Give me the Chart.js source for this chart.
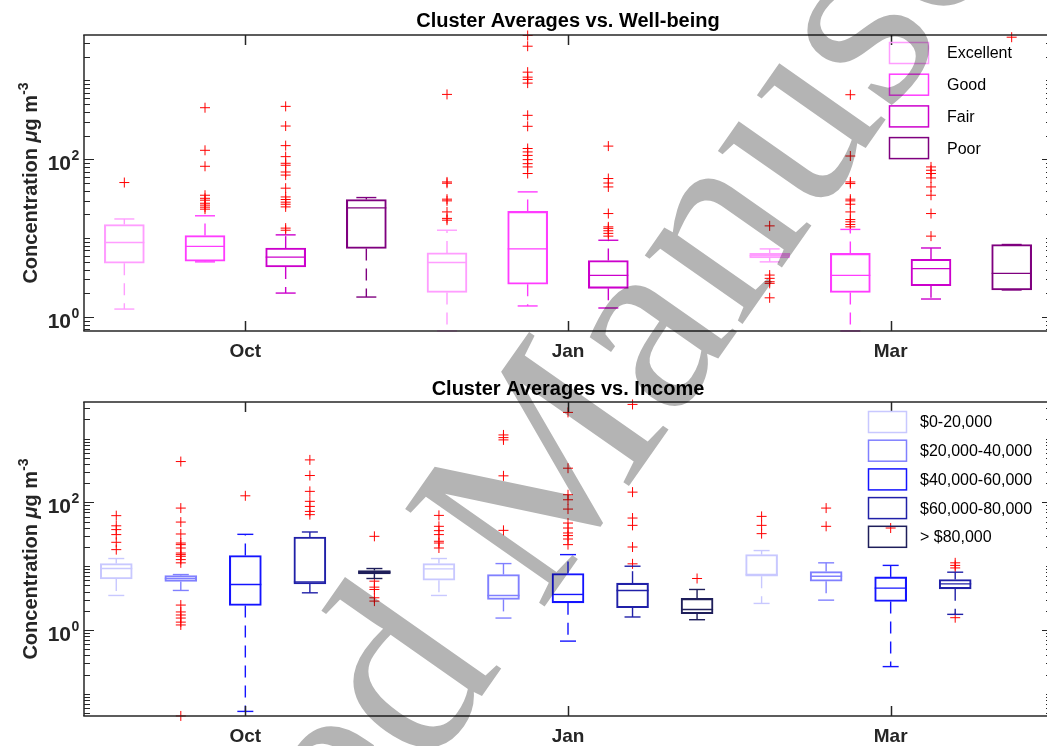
<!DOCTYPE html>
<html>
<head>
<meta charset="utf-8">
<title>Cluster Averages</title>
<script src="https://cdn.jsdelivr.net/npm/chart.js@4.4.1/dist/chart.umd.min.js"></script>
<style>
  html, body { margin: 0; padding: 0; background: #fff; }
  #wrap { position: relative; width: 1047px; height: 746px; overflow: hidden; background: #fff; }
  #wrap canvas { position: absolute; left: 0; }
  #topChart { top: 0; }
  #bottomChart { top: 370px; }
  #mark { top: 0; mix-blend-mode: multiply; pointer-events: none; }
</style>
</head>
<body>
<div id="wrap">
  <canvas id="topChart" width="1053" height="370"></canvas>
  <canvas id="bottomChart" width="1053" height="376"></canvas>
  <canvas id="mark" width="1047" height="746"></canvas>
</div>
<script>
const FONT = '"Liberation Sans", Arial, Helvetica, sans-serif';
const AXIS_COLOR = '#262626';

const seasons = ['Oct', 'Jan', 'Mar'];

// ---- top panel: well-being ----
const wellbeingNames = ['Excellent', 'Good', 'Fair', 'Poor'];
// one entry per season (Oct, Jan, Mar): [lower whisker, q1, median, q3, upper whisker]
const excellentBox = [[1.26, 4.8, 8.8, 14.9, 17.5], [0.665, 2.05, 4.9, 6.5, 12.6], [5.0, 5.6, 6.0, 6.4, 7.3]];
const goodBox = [[5.0, 5.1, 7.85, 10.8, 19.2], [1.38, 2.6, 7.3, 21.8, 38.6], [0.665, 2.05, 3.37, 6.4, 12.9]];
const fairBox = [[2.01, 4.3, 5.75, 7.47, 11.0], [1.3, 2.31, 3.37, 5.2, 9.4], [1.69, 2.49, 4.1, 5.4, 7.5]];
const poorBox = [[1.79, 7.4, 24.2, 30.9, 32.7], null, [2.2, 2.2, 3.57, 8.3, 8.3]];
// outliers per season
const excellentOut = [[50.7], [665, 51.6, 49.7, 31.2, 29.7, 21.5, 17.8, 16.9], [14.3, 3.4, 3.09, 2.8, 2.67, 1.75]];
const goodOut = [
  [451, 130, 81.5, 35, 32, 30.3, 27.7, 26.2, 24.7, 23.3],
  [3715, 2718, 1274, 1101, 1030, 925, 361, 262, 137, 124, 112, 99, 88, 80, 66],
  [659, 110, 51.6, 49.2, 31.2, 29.7, 26.9, 21.5, 17.2, 16.1, 14.9, 13.9]
];
const fairOut = [
  [469, 264, 149, 108, 89, 84, 69, 63, 43, 33.3, 30.9, 28.6, 26.9, 24.9, 13.4, 12.6],
  [147, 57, 50, 44.6, 20.5, 13.9, 13.3, 12.4, 11.5, 10.6],
  [80, 72.6, 66, 58, 44.6, 35, 20.5, 10.6]
];
const poorOut = [[], [], [3534]];
const wellbeingColors = ['#ff9dff', '#ff3cff', '#cc00cc', '#7f007f'];

// ---- bottom panel: income ----
const incomeNames = ['$0-20,000', '$20,000-40,000', '$40,000-60,000', '$60,000-80,000', '> $80,000'];
const inc0to20Box = [[3.48, 6.3, 9.2, 11.0, 13.2], [3.48, 6.04, 9.08, 11.0, 13.2], [2.61, 6.98, 7.42, 15.2, 17.6]];
const inc20to40Box = [[4.17, 5.77, 6.42, 7.16, 7.4], [1.54, 3.02, 3.48, 7.42, 11.0], [2.94, 5.83, 6.98, 8.27, 11.3]];
const inc40to60Box = [[0.053, 2.43, 5.18, 14.7, 31.6], [0.67, 2.67, 3.61, 7.69, 15.2], [0.267, 2.81, 4.53, 6.8, 10.3]];
const inc60to80Box = [[3.83, 5.29, 5.69, 28.7, 34.4], [1.6, 2.23, 4.17, 5.42, 10.0], [1.76, 4.42, 5.29, 6.2, 8.06]];
const inc80upBox = [[6.42, 7.58, 8.06, 8.57, 9.2], [1.45, 1.8, 2.1, 3.13, 4.32], null];

const inc0to20Out = [[62, 43, 37.5, 31.3, 23.7, 18.2], [62.6, 42.2, 36.1, 31.3, 24.6, 23.1, 19.3], [60.4, 43.7, 32.4]];
const inc20to40Out = [
  [437, 81.5, 49.2, 32, 23.1, 21.8, 19.3, 16.1, 15.2, 14.3, 12.7, 11.3, 2.46, 1.92, 1.72, 1.54, 1.33, 1.2, 0.045],
  [1142, 1037, 955, 261, 36.5],
  [81.5, 42.2]
];
const inc40to60Out = [[127], [2576, 344, 132, 110, 78.6, 47.5, 39.7, 33.2, 30.2, 26.7, 21.8], [39.7]];
const inc60to80Out = [[464, 264, 149, 104, 86.6, 72.3, 64.3], [3436, 145, 56.9, 43.7, 20, 10.9], [11.3, 10.3, 9.4, 1.56]];
const inc80upOut = [[29.4, 5.83, 4.7, 4.32, 3.2, 2.84], [6.42], []];
const incomeColors = ['#c8c8ff', '#8080ff', '#1414ff', '#2020a8', '#1e1e5a'];

// median, dashed whiskers and caps on top of the floating bars
const boxParts = {
  id: 'boxParts',
  afterDatasetsDraw(chart) {
    const ctx = chart.ctx;
    const ys = chart.scales.y;
    chart.data.datasets.forEach((ds, di) => {
      if (ds.type !== 'bar') return;
      const meta = chart.getDatasetMeta(di);
      meta.data.forEach((bar, i) => {
        const st = ds.data[i].stats;
        const { x, width } = bar.getProps(['x', 'width'], true);
        const half = width / 2;
        const py = v => ys.getPixelForValue(v);
        const seg = (x1, y1, x2, y2) => { ctx.beginPath(); ctx.moveTo(x1, y1); ctx.lineTo(x2, y2); ctx.stroke(); };
        ctx.save();
        ctx.strokeStyle = ds.borderColor;
        ctx.lineWidth = 1.4;
        seg(x - half, py(st[2]), x + half, py(st[2]));
        ctx.setLineDash([12, 8]);
        if (st[4] > st[3]) seg(x, py(st[3]), x, py(st[4]));
        if (st[0] < st[1]) seg(x, py(st[1]), x, py(st[0]));
        ctx.setLineDash([]);
        seg(x - half / 2, py(st[4]), x + half / 2, py(st[4]));
        seg(x - half / 2, py(st[0]), x + half / 2, py(st[0]));
        ctx.restore();
      });
    });
  }
};

// matlab-like frame: inward ticks, 10^n labels, y title and legend
const matlabAxes = {
  id: 'matlabAxes',
  afterDraw(chart, args, opts) {
    const { ctx, chartArea: a } = chart;
    const xs = chart.scales.x, ys = chart.scales.y;
    const seg = (x1, y1, x2, y2) => { ctx.beginPath(); ctx.moveTo(x1, y1); ctx.lineTo(x2, y2); ctx.stroke(); };
    ctx.save();
    ctx.strokeStyle = AXIS_COLOR;
    ctx.lineWidth = 1.5;
    seg(a.left - 0.75, a.top, a.right + 1, a.top);
    seg(a.left - 0.75, a.bottom, a.right + 1, a.bottom);
    seg(a.left, a.top, a.left, a.bottom);
    seg(a.right, a.top, a.right, a.bottom);

    // y ticks (log decades with minor ticks)
    ctx.lineWidth = 1;
    const e0 = Math.floor(Math.log10(ys.min)), e1 = Math.ceil(Math.log10(ys.max));
    for (let e = e0; e <= e1; e++) {
      for (let m = 1; m <= 9; m++) {
        const v = m * Math.pow(10, e);
        if (v < ys.min || v > ys.max) continue;
        const py = Math.round(ys.getPixelForValue(v)) + 0.5;
        const len = (m === 1 && opts.labelExps.includes(e)) ? 10 : 6;
        seg(a.left, py, a.left + len, py);
        seg(a.right, py, a.right - len, py);
      }
    }
    // x ticks
    xs.ticks.forEach(t => {
      const px = Math.round(xs.getPixelForValue(t.value)) + 0.5;
      ctx.lineWidth = 1.5;
      seg(px, a.bottom, px, a.bottom - 10);
      seg(px, a.top, px, a.top + 10);
    });

    // y tick labels 10^n
    ctx.fillStyle = AXIS_COLOR;
    opts.labelExps.forEach(e => {
      const py = ys.getPixelForValue(Math.pow(10, e));
      ctx.font = 'bold 21px ' + FONT;
      ctx.textAlign = 'right';
      ctx.textBaseline = 'alphabetic';
      ctx.fillText('10', a.left - 13, py + 11);
      ctx.font = 'bold 14px ' + FONT;
      ctx.textAlign = 'left';
      ctx.fillText(String(e), a.left - 12.5, py + 1);
    });

    // y title with greek mu and superscript
    const parts = [
      { t: 'Concentration ', f: 'bold 20px ' + FONT, dy: 0 },
      { t: 'μ', f: 'italic bold 20px ' + FONT, dy: 0 },
      { t: 'g m', f: 'bold 20px ' + FONT, dy: 0 },
      { t: '-3', f: 'bold 14px ' + FONT, dy: -9 }
    ];
    ctx.save();
    ctx.translate(37, (a.top + a.bottom) / 2);
    ctx.rotate(-Math.PI / 2);
    ctx.textAlign = 'left';
    let total = 0;
    parts.forEach(p => { ctx.font = p.f; p.w = ctx.measureText(p.t).width; total += p.w; });
    let cx = -total / 2;
    parts.forEach(p => { ctx.font = p.f; ctx.fillText(p.t, cx, p.dy); cx += p.w; });
    ctx.restore();

    // legend: outlined patches, no frame
    const lg = opts.legend;
    ctx.font = '16px ' + FONT;
    ctx.textAlign = 'left';
    ctx.textBaseline = 'middle';
    opts.names.forEach((name, i) => {
      const cy = lg.y + i * lg.step;
      ctx.strokeStyle = opts.colors[i];
      ctx.lineWidth = 1.5;
      ctx.strokeRect(lg.x, cy - lg.h / 2, lg.w, lg.h);
      ctx.fillStyle = '#000';
      ctx.fillText(name, lg.textX, cy + 1);
    });
    ctx.restore();
  }
};

function buildPanel(id, p) {
  const n = p.names.length;
  const datasets = p.names.map((name, s) => ({
    type: 'bar',
    label: name,
    data: p.boxes[s].map((b, k) => b && { x: k * n + s, y: [b[1], b[3]], stats: b }).filter(Boolean),
    grouped: false,
    barThickness: p.boxWidth,
    backgroundColor: 'rgba(0,0,0,0)',
    borderColor: p.colors[s],
    borderWidth: 1.4,
    borderSkipped: false
  }));
  const outPts = [];
  p.outliers.forEach((series, s) => series.forEach((vals, k) => vals.forEach(v => outPts.push({ x: k * n + s, y: v }))));
  datasets.push({
    type: 'scatter',
    label: 'outliers',
    data: outPts,
    pointStyle: 'cross',
    pointRadius: 5,
    borderColor: '#ff0000',
    borderWidth: 1,
    clip: false
  });
  const tickPos = seasons.map((s, k) => k * n + (n - 1) / 2);

  return new Chart(document.getElementById(id), {
    type: 'bar',
    data: { datasets },
    options: {
      responsive: false,
      animation: false,
      devicePixelRatio: 1,
      layout: { padding: { right: 1 }, autoPadding: false },
      plugins: {
        legend: { display: false },
        tooltip: { enabled: false },
        title: {
          display: true,
          text: p.title,
          fullSize: false,
          color: '#000',
          font: { family: FONT, size: 20, weight: 'bold' },
          padding: p.titlePad
        },
        matlabAxes: { labelExps: [0, 2], names: p.names, colors: p.colors, legend: p.legend }
      },
      scales: {
        x: {
          type: 'linear',
          offset: false,
          bounds: 'data',
          min: -0.5,
          max: n * seasons.length - 0.5,
          grid: { display: false, drawTicks: false },
          border: { display: false },
          afterBuildTicks: s => { s.ticks = tickPos.map(v => ({ value: v })); },
          afterFit: s => { s.height = p.xHeight; },
          ticks: {
            autoSkip: false,
            maxRotation: 0,
            padding: 9,
            color: AXIS_COLOR,
            font: { family: FONT, size: 19, weight: 'bold' },
            callback: (v, i) => seasons[i]
          }
        },
        y: {
          type: 'logarithmic',
          bounds: 'data',
          min: p.yMin,
          max: p.yMax,
          grid: { display: false },
          border: { display: false },
          ticks: { display: false },
          afterFit: s => { s.width = 84; }
        }
      }
    },
    plugins: [boxParts, matlabAxes]
  });
}

buildPanel('topChart', {
  title: 'Cluster Averages vs. Well-being',
  titlePad: { top: 9, bottom: 2 },
  names: wellbeingNames,
  colors: wellbeingColors,
  boxes: [excellentBox, goodBox, fairBox, poorBox],
  outliers: [excellentOut, goodOut, fairOut, poorOut],
  boxWidth: 40,
  xHeight: 39,
  yMin: 0.664,
  yMax: 3770,
  legend: { x: 889.5, y: 53, step: 31.7, w: 39, h: 21, textX: 947 }
});

buildPanel('bottomChart', {
  title: 'Cluster Averages vs. Income',
  titlePad: { top: 7, bottom: 1 },
  names: incomeNames,
  colors: incomeColors,
  boxes: [inc0to20Box, inc20to40Box, inc40to60Box, inc60to80Box, inc80upBox],
  outliers: [inc0to20Out, inc20to40Out, inc40to60Out, inc60to80Out, inc80upOut],
  boxWidth: 32,
  xHeight: 30,
  yMin: 0.0449,
  yMax: 3750,
  legend: { x: 868.5, y: 52, step: 28.7, w: 38, h: 21, textX: 920 }
});

// grey diagonal watermark, multiplied over both panels
const wm = document.getElementById('mark').getContext('2d');
wm.save();
wm.translate(-60, 1470);
wm.rotate(-55 * Math.PI / 180);
wm.font = '260px "Liberation Serif", "Times New Roman", serif';
wm.fillStyle = '#b4b4b4';
wm.fillText('Accepted Manuscript', 0, 0);
wm.restore();
</script>
</body>
</html>
